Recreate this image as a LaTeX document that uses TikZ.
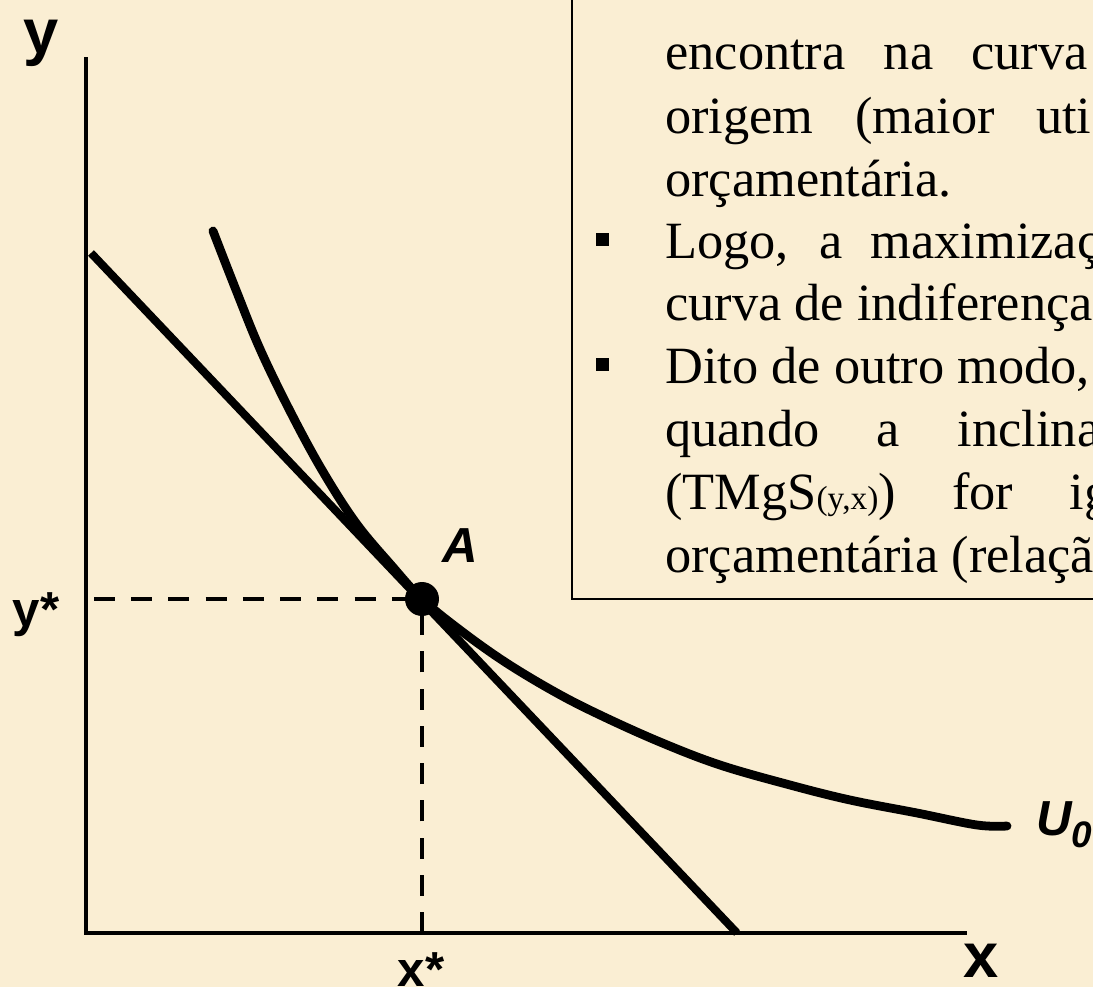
\documentclass[tikz,border=0pt]{standalone}
\usepackage{fontspec}
\setmainfont{Liberation Serif}
\setsansfont{Liberation Sans}
\usetikzlibrary{positioning}
\definecolor{parchment}{RGB}{250,238,211}

\begin{document}
\begin{tikzpicture}[x=0.02cm, y=-0.02cm,
        axis/.style={line width=2.8pt},
        budget/.style={line width=4.6pt},
        utility/.style={line width=5pt, line cap=round, line join=round},
        guide/.style={line width=2.3pt, dash pattern=on 11.9pt off 9.3pt},
        dot/.style={circle, fill, inner sep=0pt, minimum size=0.68cm},
        axlabel/.style={font=\sffamily\bfseries\fontsize{36}{36}\selectfont, inner sep=0pt},
        starlabel/.style={font=\sffamily\bfseries\fontsize{28}{28}\selectfont, inner sep=0pt},
        ptlabel/.style={font=\sffamily\bfseries\itshape\fontsize{28}{28}\selectfont, inner sep=0pt},
        txt/.style={font=\fontsize{29.8}{35}\selectfont, inner sep=0pt, anchor=base west},
        bullet/.style={fill, inner sep=0pt, minimum size=0.26cm}
    ]
    \useasboundingbox (0,0) rectangle (1093,987);
    \fill[parchment] (0,0) rectangle (1093,987);
    \clip (0,0) rectangle (1093,987);

    % text box
    \draw[line width=1.1pt] (1120,599) -| (572,-20);
    \node[txt] (l1) at (665,70) {\makebox[8.45cm][s]{encontra na curva}};
    \node[txt] (l2) at (665,133) {\makebox[8.52cm][s]{origem (maior uti}};
    \node[txt] (l3) at (665,196) {orçamentária.};
    \node[txt] (l4) at (665,258) {\makebox[8.7cm][s]{Logo, a maximizaç}};
    \node[txt] (l5) at (665,320) {curva de indiferença};
    \node[txt] (l6) at (665,383) {Dito de outro modo,};
    \node[txt] (l7) at (665,446) {\makebox[8.7cm][s]{quando a inclina}};
    \node[txt] (l8) at (665,509) {\makebox[8.9cm][s]{(TMgS{\fontsize{19}{19}\selectfont(y,x)}) for ig}};
    \node[txt] (l9) at (665,572) {orçamentária (relaçã};
    \node[bullet] (b4) at (602,239) {};
    \node[bullet] (b6) at (602,364) {};

    % axes
    \coordinate (O) at (86,933);
    \coordinate (ytop) at (86,57);
    \coordinate (xend) at (967,933);
    \draw[axis] (ytop) -- (O) -- (xend);
    \node[axlabel, anchor=base] (ylab) at (41,53) {y};
    \node[axlabel, anchor=base] (xlab) at (981,977) {x};

    % optimum
    \coordinate (A) at (422,599);
    \coordinate (ys) at (94,599);
    \coordinate (xs) at (A |- O);
    \draw[guide] (ys) -- (A);
    \draw[guide] (xs) -- (A);
    \node[starlabel, anchor=base] (ystar) at (36,626) {y*};
    \node[starlabel, anchor=base] (xstar) at (421,986) {x*};

    \coordinate (b0) at (91,253);
    \coordinate (b1) at (737,933);
    \draw[budget] (b0) -- (b1);

    \draw[utility] plot[smooth, tension=0.6] coordinates {(213,231) (236,290) (260,349) (290,411) (322,470) (356,523) (392,566) (422,599) (460,630) (505,662) (555,692) (600,715) (660,742) (720,765) (790,785) (850,800) (917,813) (977,825) (1007,826)};
    \coordinate (uend) at (1007,826);
    \node[ptlabel, anchor=base west] (ulab) at (1036,835) {U\raisebox{-0.25em}{\fontsize{21}{21}\selectfont 0}};

    \node[dot] (Adot) at (A) {};
    \node[ptlabel, above right=0.48cm and 0.16cm of Adot] (alab) {A};
\end{tikzpicture}
\end{document}
